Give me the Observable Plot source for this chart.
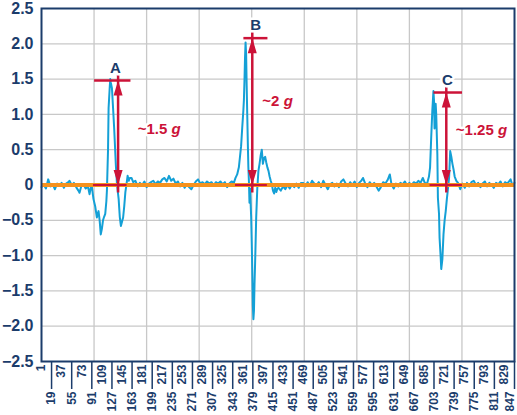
<!DOCTYPE html>
<html><head><meta charset="utf-8">
<script src="https://cdn.jsdelivr.net/npm/d3@7"></script>
<script src="https://cdn.jsdelivr.net/npm/@observablehq/plot@0.6"></script>
<style>
html,body{margin:0;padding:0;background:#fff;}
</style></head><body><div id="chart"></div>
<script>
// accelerometer trace: sample index and acceleration (g)
const samples = [
  1,5,9,13,17,21,25,29,33,37,41,45,49,51,55,59,63,67,69,72,76,80,84,87,
  89,91,94,97,100,103,105,107,109,111,113,115,117,118,120,121,123,124,125,127,129,131,134,136,139,141,143,145,147,149,151,153,155,157,159,
  162,165,169,173,177,181,185,189,193,197,201,205,209,213,217,221,225,229,233,237,241,245,249,253,257,261,265,269,273,277,281,285,289,293,297,301,305,309,313,317,321,325,329,
  333,337,341,345,348,351,354,356,358,360,362,363,364,365,366,367,368,369,370,371,372,373,374,376,377,378,379,380,381,382,383,384,385,386,387,389,391,393,395,397,399,401,403,405,407,409,411,413,415,417,419,421,423,
  425,429,433,437,441,445,449,453,457,461,465,469,473,477,481,485,489,493,497,501,505,509,513,517,521,525,529,533,537,541,545,549,553,557,561,565,569,573,576,580,584,588,592,596,600,604,608,612,616,620,624,627,631,635,639,643,647,651,655,659,663,667,671,675,679,683,686,
  688,691,694,696,698,700,702,703,704,705,706,707,709,710,712,713,715,716,718,720,722,724,726,728,730,732,734,736,738,740,743,746,
  750,754,758,762,766,770,774,778,782,786,790,794,798,802,806,810,814,818,822,826,830,834,838,840,843,847
];
const accel = [
  -0.03,0.0,-0.05,0.08,-0.02,0.01,-0.06,0.02,-0.01,0.03,-0.04,0.02,0.04,0.06,0.0,0.03,-0.03,-0.08,-0.11,-0.02,0.01,-0.05,-0.02,-0.13,
  -0.04,-0.02,-0.2,-0.3,-0.46,-0.37,-0.5,-0.70,-0.62,-0.5,-0.45,-0.41,-0.23,-0.08,0.5,1.09,1.38,1.5,1.45,1.37,1.09,0.8,0.28,0.01,-0.2,-0.45,-0.58,-0.52,-0.46,-0.3,-0.1,0.01,0.13,0.06,0.1,
  0.1,0.04,0.06,-0.02,0.03,0.0,0.05,-0.03,0.02,0.04,0.06,0.01,0.05,0.03,0.08,0.1,0.05,0.13,0.06,0.09,0.02,0.05,-0.02,0.03,-0.04,0.01,-0.03,-0.06,0.0,0.05,0.08,0.02,0.04,0.01,0.05,0.02,0.04,0.0,0.04,0.02,0.05,0.01,0.04,
  -0.03,0.02,0.05,0.03,0.1,0.15,0.25,0.4,0.55,0.81,1.05,1.2,1.47,1.8,2.02,1.85,1.4,1.0,0.6,0.25,0.05,-0.25,-0.05,-0.45,-0.8,-1.2,-1.7,-1.9,-1.78,-1.4,-1.12,-0.8,-0.46,-0.25,-0.04,0.2,0.3,0.42,0.5,0.3,0.38,0.4,0.32,0.25,0.2,0.12,0.06,0.01,-0.08,-0.12,-0.04,-0.1,-0.05,
  -0.04,-0.08,-0.02,-0.06,0.0,-0.05,0.01,-0.03,0.02,-0.04,0.03,0.03,-0.02,0.04,-0.01,0.06,0.02,0.0,0.04,-0.03,0.06,0.0,-0.06,0.01,0.03,-0.02,0.02,-0.03,0.05,0.08,0.02,-0.02,0.04,0.0,0.05,-0.03,0.03,0.06,0.1,0.02,-0.03,0.04,0.0,0.03,-0.02,-0.08,-0.03,0.04,0.02,0.07,0.15,0.01,-0.05,0.02,-0.02,0.03,0.01,0.05,-0.01,0.03,0.0,0.04,0.02,0.06,0.03,0.1,0.04,
  0.02,0.03,0.12,0.25,0.67,1.05,1.33,1.2,0.8,0.95,1.15,1.0,0.44,-0.18,-0.41,-0.75,-1.03,-1.19,-1.05,-0.7,-0.5,-0.37,-0.2,-0.05,0.1,0.48,0.4,0.3,0.22,0.12,0.06,0.03,
  -0.06,0.02,-0.04,0.03,-0.02,0.04,0.06,0.0,0.03,-0.03,0.02,0.05,-0.02,0.03,0.0,-0.04,0.03,0.01,0.05,-0.02,0.04,0.02,0.06,0.08,0.0,0.03
];
const yTicks = [-2.5,-2.0,-1.5,-1.0,-0.5,0,0.5,1.0,1.5,2.0,2.5];
const xTicks = [1,19,37,55,73,91,109,127,145,163,181,199,217,235,253,271,289,307,325,343,361,379,397,415,433,451,469,487,505,523,541,559,577,595,613,631,649,667,685,703,721,739,757,775,793,811,829,847];
const gridSamples = [95,189,283,377,471,565,659,753];

// peak annotations
const annName   = ["A","B","C"];
const annText   = ["~1.5 g","~2 g","~1.25 g"];
const annArrow  = [138,378,725];
const annTop    = [1.48,2.08,1.31];
const annTopX1  = [96,363,703];
const annTopX2  = [161,406,754];
const annBaseX1 = [94,348,696];
const annBaseX2 = [154,405,754];
const annNameX  = [133,384,727];
const annNameY  = [1.66,2.27,1.48];
const annTextX  = [173,396,742];
const annTextY  = [0.79,1.19,0.77];

const navy = "#1b3c6b", blue = "#14a0d6", orange = "#f5921e", red = "#cc1338", grid = "#c8c8c8";

const trace = samples.map((s, i) => ({s, v: accel[i]}));
const ann = annName.map((n, i) => ({
  name: n, label: annText[i], ax: annArrow[i], top: annTop[i],
  tx1: annTopX1[i], tx2: annTopX2[i], bx1: annBaseX1[i], bx2: annBaseX2[i],
  nx: annNameX[i], ny: annNameY[i], lx: annTextX[i], ly: annTextY[i]
}));
const lastTick = xTicks[xTicks.length - 1];
const evenTicks = xTicks.filter((d, i) => i % 2 === 0);
const oddTicks = xTicks.filter((d, i) => i % 2 === 1);

const headUp = {draw(ctx) { ctx.moveTo(0, 0); ctx.lineTo(-4.5, 15); ctx.lineTo(4.5, 15); ctx.closePath(); }};
const headDown = {draw(ctx) { ctx.moveTo(0, 0); ctx.lineTo(-4.5, -15); ctx.lineTo(4.5, -15); ctx.closePath(); }};

const chart = Plot.plot({
  width: 517, height: 415,
  marginLeft: 41, marginRight: 3, marginTop: 8, marginBottom: 54,
  style: {fontFamily: "'Liberation Sans', Arial, sans-serif", color: navy, background: "#fff", overflow: "visible"},
  x: {domain: [1, 847], axis: null, label: null},
  y: {domain: [-2.5, 2.5], axis: null, label: null},
  marks: [
    Plot.ruleY(yTicks.slice(1, -1), {stroke: grid, strokeWidth: 1.3}),
    Plot.ruleX(gridSamples, {stroke: grid, strokeWidth: 1.3}),
    Plot.line(trace, {x: "s", y: "v", stroke: blue, strokeWidth: 2}),
    Plot.ruleY([0], {stroke: orange, strokeWidth: 4}),
    Plot.ruleY(ann, {y: 0, x1: "bx1", x2: "bx2", stroke: red, strokeWidth: 2}),
    Plot.ruleY(ann, {y: "top", x1: "tx1", x2: "tx2", stroke: red, strokeWidth: 2.5}),
    Plot.ruleX(ann, {x: "ax", y1: 0, y2: "top", stroke: red, strokeWidth: 2.5, insetTop: 8, insetBottom: 8}),
    Plot.dot(ann, {x: "ax", y: "top", symbol: headUp, r: 5, fill: red, stroke: "none"}),
    Plot.dot(ann, {x: "ax", y: 0, symbol: headDown, r: 5, fill: red, stroke: "none"}),
    Plot.frame({stroke: navy, strokeWidth: 2}),
    Plot.text(ann, {x: "nx", y: "ny", text: "name", fill: navy, fontSize: 15, fontWeight: "bold", stroke: "white", strokeWidth: 5}),
    Plot.text(ann, {x: "lx", y: "ly", text: "label", textAnchor: "start", fill: red, fontSize: 15, fontWeight: "bold", stroke: "white", strokeWidth: 5}),
    Plot.axisY(yTicks, {tickSize: 0, tickPadding: 8, tickFormat: d => d === 0 ? "0" : d3.format(".1f")(d), fontSize: 16, fontWeight: "bold", label: null}),
    Plot.axisX(evenTicks, {tickSize: 0, tickPadding: 3, tickRotate: -90, fontSize: 12, fontWeight: "bold", label: null}),
    Plot.axisX(oddTicks, {tickSize: 28, tickPadding: 2, tickRotate: -90, fontSize: 12, fontWeight: "bold", strokeWidth: 1.5, label: null,
      tickFormat: d => d === lastTick ? "" : String(d)}),
    Plot.axisX([lastTick], {tickSize: 0, tickPadding: 30, tickRotate: -90, fontSize: 12, fontWeight: "bold", dx: -4.5, label: null})
  ]
});

// italic "g" unit
d3.select(chart).selectAll("text").each(function() {
  const t = this.textContent;
  if (/ g$/.test(t) && this.childElementCount === 0) {
    this.textContent = t.slice(0, -1);
    const ts = document.createElementNS("http://www.w3.org/2000/svg", "tspan");
    ts.setAttribute("font-style", "italic");
    ts.textContent = "g";
    this.appendChild(ts);
  }
});
document.getElementById("chart").appendChild(chart);
</script>
</body></html>
